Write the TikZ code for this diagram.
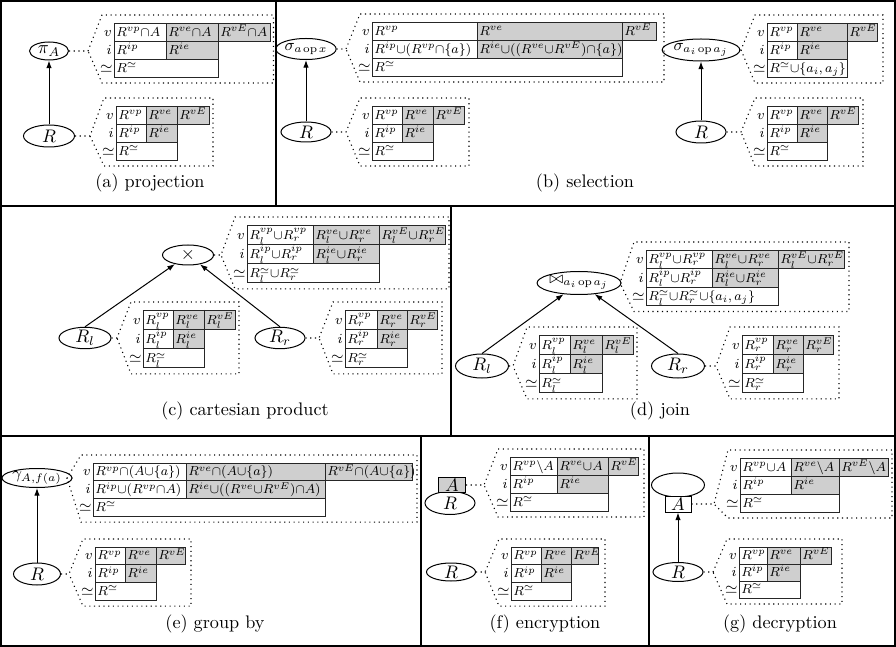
\documentclass[tikz,border=0pt]{standalone}
\usetikzlibrary{shapes.geometric,arrows.meta}
\newcommand\ps[1]{#1*0.55pt}
\newcommand\tabfont{\fontsize{8}{10}\selectfont}
\newcommand\cu{\mathord{\cup}}
\newcommand\ca{\mathord{\cap}}
\newcommand\sm{\mathord{\setminus}}
\newcommand\opx{\mkern2mu\mathrm{op}\mkern2mu}
\tikzset{
  frameline/.style={line width=1.1pt},
  opnode/.style={draw, ellipse, line width=0.55pt, inner sep=0pt, font=\fontsize{10}{12}\selectfont},
  smallop/.style={font=\fontsize{9}{11}\selectfont},
  abox/.style={draw, rectangle, line width=0.55pt, inner sep=0pt, font=\fontsize{10}{12}\selectfont},
  flow/.style={-{Latex[length=4.2pt,width=3pt]}, line width=0.55pt},
  cellgray/.style={fill=black!19},
  cellline/.style={draw=black!85, line width=0.5pt},
  celltext/.style={inner sep=0pt, anchor=base west, font=\tabfont, scale=0.9},
  rowlbl/.style={inner sep=0pt, anchor=base east, font=\tabfont, scale=0.95},
  callout/.style={dotted, line width=0.6pt},
  capt/.style={font=\fontsize{10}{12}\selectfont, inner sep=0pt},
}
% geometry: x, y, w1, w2, w3, row height
\newcommand\tabgeo[6]{%
  \pgfmathsetmacro\tXa{#1}\pgfmathsetmacro\tYa{#2}%
  \pgfmathsetmacro\tXb{#1+#3}\pgfmathsetmacro\tXc{#1+#3+#4}\pgfmathsetmacro\tXd{#1+#3+#4+#5}%
  \pgfmathsetmacro\tYb{#2+#6}\pgfmathsetmacro\tYc{#2+2*#6}\pgfmathsetmacro\tYd{#2+3*#6}%
  \pgfmathsetmacro\tRh{0.27*#6}}
% contents: prefix, c11, c12, c13, c21, c22, c3
\newcommand\tabfill[7]{%
  \fill[cellgray] (\tXb,\tYa) rectangle (\tXd,\tYb);
  \fill[cellgray] (\tXb,\tYb) rectangle (\tXc,\tYc);
  \draw[cellline] (\tXa,\tYa) -- (\tXd,\tYa) -- (\tXd,\tYb) -- (\tXc,\tYb) -- (\tXc,\tYd) -- (\tXa,\tYd) -- cycle;
  \draw[cellline] (\tXa,\tYb) -- (\tXc,\tYb) (\tXa,\tYc) -- (\tXc,\tYc) (\tXb,\tYa) -- (\tXb,\tYc) (\tXc,\tYa) -- (\tXc,\tYb);
  \node[celltext] (#1x11) at ({\tXa+2},{\tYb-\tRh}) {$#2$};
  \node[celltext] (#1x12) at ({\tXb+2},{\tYb-\tRh}) {$#3$};
  \node[celltext] (#1x13) at ({\tXc+2},{\tYb-\tRh}) {$#4$};
  \node[celltext] (#1x21) at ({\tXa+2},{\tYc-\tRh}) {$#5$};
  \node[celltext] (#1x22) at ({\tXb+2},{\tYc-\tRh}) {$#6$};
  \node[celltext] (#1x3) at ({\tXa+2},{\tYd-\tRh}) {$#7$};
  \node[rowlbl] (#1v) at ({\tXa-2},{\tYb-\tRh}) {$v$};
  \node[rowlbl] (#1i) at ({\tXa-2},{\tYc-\tRh}) {$i$};
  \node[rowlbl, font=\fontsize{9}{11}\selectfont, scale=1] (#1s) at ({\tXa-1},{\tYd-\tRh}) {$\simeq$};
}
\newcommand\stdtab[1]{\tabfill{#1}{R^{vp}}{R^{ve}}{R^{vE}}{R^{ip}}{R^{ie}}{R^{\simeq}}}
\newcommand\lrtab[2]{\tabfill{#1}{R_#2^{vp}}{R_#2^{ve}}{R_#2^{vE}}{R_#2^{ip}}{R_#2^{ie}}{R_#2^{\simeq}}}
% callout: prefix, source node, right extension
\newcommand\tabcall[3]{%
  \coordinate (#1q) at ({\tXa-26},0);
  \coordinate (#1p) at (#1q |- #2.east);
  \draw[callout] (#2.east) -- (#1p) -- ({\tXa-12},{\tYa-8}) -- ({\tXd+#3},{\tYa-8}) -- ({\tXd+#3},{\tYd+6}) -- ({\tXa-12},{\tYd+6}) -- (#1p);
}
\begin{document}
\begin{tikzpicture}[x=0.55pt,y=-0.55pt]
\useasboundingbox (0,0) rectangle (896,647);
% frames
\draw[frameline] (1,1) rectangle (895,646);
\draw[frameline] (0,206) -- (896,206) (0,436) -- (896,436);
\draw[frameline] (276,0) -- (276,206) (451,206) -- (451,436) (421,436) -- (421,647) (649,436) -- (649,647);

% ---------- (a) projection
\node[opnode, minimum width=\ps{39}, minimum height=\ps{18}] (piA) at (49,51) {$\pi_A$};
\node[opnode, minimum width=\ps{51}, minimum height=\ps{22}] (Ra) at (49,136) {$R$};
\draw[flow] (Ra) -- (piA);
\tabgeo{114}{23}{52}{52}{52}{18}
\tabcall{ca1}{piA}{3.5}
\tabfill{ta1}{R^{vp}\ca A}{R^{ve}\ca A}{R^{vE}\ca A}{R^{ip}}{R^{ie}}{R^{\simeq}}
\tabgeo{116}{106}{30}{31}{32}{18}
\tabcall{ca2}{Ra}{4}
\stdtab{ta2}
\node[capt] (capa) at (150,183) {(a) projection};

% ---------- (b) selection
\node[opnode, smallop, minimum width=\ps{52}, minimum height=\ps{21}] (sigA) at (306,49) {$\sigma_{a\opx x}$};
\node[opnode, minimum width=\ps{50}, minimum height=\ps{20}] (Rb1) at (306,132) {$R$};
\draw[flow] (Rb1) -- (sigA);
\tabgeo{372}{22}{105}{145}{34}{18}
\tabcall{cb1}{sigA}{8}
\tabfill{tb1}{R^{vp}}{R^{ve}}{R^{vE}}{R^{ip}\cu(R^{vp}\ca\{a\})}{R^{ie}\cu((R^{ve}\cu R^{vE})\ca\{a\})}{R^{\simeq}}
\tabgeo{372}{106}{30}{31}{31}{18}
\tabcall{cb2}{Rb1}{5}
\stdtab{tb2}
\node[opnode, smallop, minimum width=\ps{57}, minimum height=\ps{22}] (sigB) at (701,50) {$\sigma_{a_i\opx a_j}$};
\node[opnode, minimum width=\ps{50}, minimum height=\ps{22}] (Rb2) at (701,132) {$R$};
\draw[flow] (Rb2) -- (sigB);
\tabgeo{767}{23}{30}{50}{30}{18}
\tabcall{cb3}{sigB}{6}
\tabfill{tb3}{R^{vp}}{R^{ve}}{R^{vE}}{R^{ip}}{R^{ie}}{R^{\simeq}\cu\{a_i,a_j\}}
\tabgeo{767}{106}{30}{30}{31}{18}
\tabcall{cb4}{Rb2}{5}
\stdtab{tb4}
\node[capt] (capb) at (585,183) {(b) selection};

% ---------- (c) cartesian product
\node[opnode, minimum width=\ps{51}, minimum height=\ps{20}] (times) at (188,255) {$\times$};
\node[opnode, minimum width=\ps{52}, minimum height=\ps{20}] (Rl) at (85,338) {$R_l$};
\node[opnode, minimum width=\ps{50}, minimum height=\ps{20}] (Rr) at (280,338) {$R_r$};
\draw[flow] (Rl.north) -- (times);
\draw[flow] (Rr.north) -- (times);
\tabgeo{247}{225}{66}{66}{66}{19.3}
\tabcall{cc1}{times}{4}
\tabfill{tc1}{R_l^{vp}\cu R_r^{vp}}{R_l^{ve}\cu R_r^{ve}}{R_l^{vE}\cu R_r^{vE}}{R_l^{ip}\cu R_r^{ip}}{R_l^{ie}\cu R_r^{ie}}{R_l^{\simeq}\cu R_r^{\simeq}}
\tabgeo{143}{310}{30}{31}{31}{19.3}
\tabcall{cc2}{Rl}{4}
\lrtab{tc2}{l}
\tabgeo{345}{310}{32}{30}{30}{19.3}
\tabcall{cc3}{Rr}{5}
\lrtab{tc3}{r}
\node[capt] (capc) at (245,411) {(c) cartesian product};

% ---------- (d) join
\node[opnode, smallop, minimum width=\ps{62}, minimum height=\ps{23}] (join) at (579,283) {$\bowtie_{a_i\opx a_j}$};
\node[opnode, minimum width=\ps{53}, minimum height=\ps{24}] (Rl2) at (482,366) {$R_l$};
\node[opnode, minimum width=\ps{53}, minimum height=\ps{24}] (Rr2) at (678,366) {$R_r$};
\draw[flow] (Rl2.north) -- (join);
\draw[flow] (Rr2.north) -- (join);
\tabgeo{646}{250}{66}{66}{66}{18.5}
\tabcall{cd1}{join}{5}
\tabfill{td1}{R_l^{vp}\cu R_r^{vp}}{R_l^{ve}\cu R_r^{ve}}{R_l^{vE}\cu R_r^{vE}}{R_l^{ip}\cu R_r^{ip}}{R_l^{ie}\cu R_r^{ie}}{R_l^{\simeq}\cu R_r^{\simeq}\cu\{a_i,a_j\}}
\tabgeo{539}{335}{31}{32}{31}{19.3}
\tabcall{cd2}{Rl2}{4}
\lrtab{td2}{l}
\tabgeo{742}{335}{31}{30}{30}{19.3}
\tabcall{cd3}{Rr2}{6}
\lrtab{td3}{r}
\node[capt] (capd) at (660,411) {(d) join};

% ---------- (e) group by
\node[opnode, smallop, minimum width=\ps{51}, minimum height=\ps{19}] (gam) at (37,478) {$\gamma_{A,f(a)}$};
\node[opnode, minimum width=\ps{47}, minimum height=\ps{22}] (Re) at (37,574) {$R$};
\draw[flow] (Re) -- (gam);
\tabgeo{93}{463}{93}{139}{87}{17.7}
\tabcall{ce1}{gam}{5}
\tabfill{te1}{R^{vp}\ca(A\cu\{a\})}{R^{ve}\ca(A\cu\{a\})}{R^{vE}\ca(A\cu\{a\})}{R^{ip}\cu(R^{vp}\ca A)}{R^{ie}\cu((R^{ve}\cu R^{vE})\ca A)}{R^{\simeq}}
\tabgeo{95}{547}{30}{31}{29}{17.7}
\tabcall{ce2}{Re}{6}
\stdtab{te2}
\node[capt] (cape) at (215,624) {(e) group by};

% ---------- (f) encryption
\node[opnode, minimum width=\ps{50}, minimum height=\ps{23}] (Rf1) at (450,503) {$R$};
\node[abox, fill=black!19, minimum width=\ps{27}, minimum height=\ps{15}] (Af) at (452,485) {$A$};
\tabgeo{510}{457}{47}{51}{30}{18}
\tabcall{cf1}{Af}{6}
\tabfill{tf1}{R^{vp}\sm A}{R^{ve}\cu A}{R^{vE}}{R^{ip}}{R^{ie}}{R^{\simeq}}
\node[opnode, minimum width=\ps{49}, minimum height=\ps{18}] (Rf2) at (451,572) {$R$};
\tabgeo{511}{547}{30}{30}{27}{17.7}
\tabcall{cf2}{Rf2}{7}
\stdtab{tf2}
\node[capt] (capf) at (545,624) {(f) encryption};

% ---------- (g) decryption
\node[opnode, minimum width=\ps{53}, minimum height=\ps{24}] (Eg) at (678,485) {};
\node[abox, fill=white, minimum width=\ps{26}, minimum height=\ps{16}] (Ag) at (678,504) {$A$};
\node[opnode, minimum width=\ps{50}, minimum height=\ps{19}] (Rg) at (678,572) {$R$};
\draw[flow] (Rg.north) -- (Ag.south);
\tabgeo{740}{458}{51}{48}{49}{18}
\tabcall{cg1}{Ag}{4}
\tabfill{tg1}{R^{vp}\cu A}{R^{ve}\sm A}{R^{vE}\sm A}{R^{ip}}{R^{ie}}{R^{\simeq}}
\tabgeo{739}{547}{28}{33}{31}{17}
\tabcall{cg2}{Rg}{11}
\stdtab{tg2}
\node[capt] (capg) at (780,624) {(g) decryption};
\end{tikzpicture}
\end{document}
